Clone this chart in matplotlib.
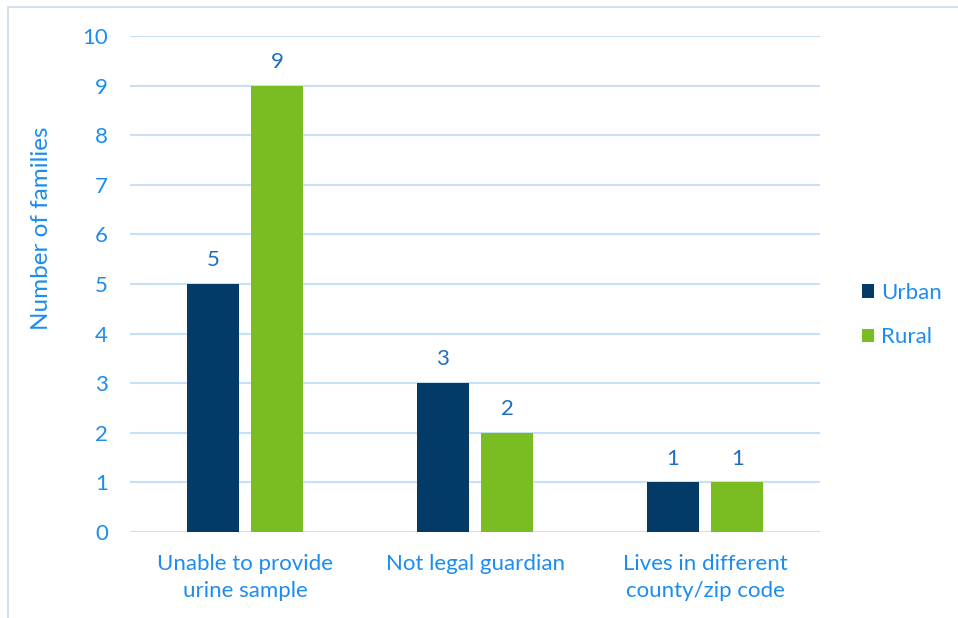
import matplotlib
matplotlib.use("Agg")
import matplotlib.pyplot as plt
from matplotlib.patches import Rectangle
import numpy as np

categories = ["Unable to provide\nurine sample", "Not legal guardian", "Lives in different\ncounty/zip code"]
series_names = ["Urban", "Rural"]
urban = [5, 3, 1]
rural = [9, 2, 1]
yticks = list(range(0, 11))

plt.rcParams['font.family'] = ['Lato', 'DejaVu Sans']
TXT = '#1C8CF0'
LBL = '#1F6FBF'
GRID = '#C5E0F7'
C_URBAN = '#033A66'
C_RURAL = '#7ABD22'
FS = 16

fig = plt.figure(figsize=(9.58, 6.18), dpi=100)
fig.patches.append(Rectangle((8/958, -0.01), 1.0, 1 - 7/618 + 0.01,
                             transform=fig.transFigure, fill=False,
                             edgecolor='#C9DDF0', linewidth=1.2))
ax = fig.add_axes([130/958, 1 - 532/618, 690/958, 496/618])

x = np.arange(len(categories))
w = 0.226
off = 0.14
b1 = ax.bar(x - off, urban, w, color=C_URBAN, label=series_names[0], zorder=3)
b2 = ax.bar(x + off, rural, w, color=C_RURAL, label=series_names[1], zorder=3)
for bars in (b1, b2):
    for r in bars:
        ax.text(r.get_x() + r.get_width()/2, r.get_height() + 0.28, f"{int(r.get_height())}",
                ha='center', va='bottom', fontsize=FS, color=LBL)

ax.set_xlim(-0.5, 2.5)
ax.set_ylim(0, 10)
ax.set_yticks(yticks)
ax.set_xticks(x)
ax.set_xticklabels(categories, fontsize=FS, color=TXT, linespacing=1.45)
ax.tick_params(axis='both', length=0, labelsize=FS, labelcolor=TXT)
ax.tick_params(axis='y', pad=16)
ax.tick_params(axis='x', pad=16)
ax.grid(axis='y', color=GRID, linewidth=1.5, zorder=0)
for s in ax.spines.values():
    s.set_visible(False)

fig.text(42/958, 1 - 228/618, "Number of families", rotation=90, ha='center', va='center',
         fontsize=17.5, color=TXT)

leg = fig.legend(handles=[b1, b2], labels=series_names, loc='center left',
                 bbox_to_anchor=(842/958, 1 - 315/618), frameon=False, fontsize=FS,
                 handlelength=0.55, handleheight=0.55, handletextpad=0.3, labelspacing=1.1,
                 labelcolor=TXT)

fig.savefig("out.png", dpi=100)
